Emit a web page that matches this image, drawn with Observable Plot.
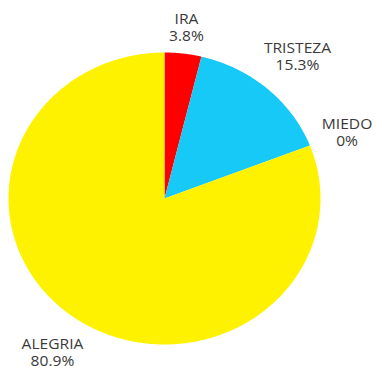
<!DOCTYPE html>
<html>
<head>
<meta charset="utf-8">
<script src="https://cdn.jsdelivr.net/npm/d3@7"></script>
<script src="https://cdn.jsdelivr.net/npm/@observablehq/plot@0.6"></script>
<style>
  html, body { margin: 0; padding: 0; background: #fff; }
  #chart svg { display: block; }
</style>
</head>
<body>
<div id="chart"></div>
<script>
// ---- data ----
const categories = ["IRA", "TRISTEZA", "MIEDO", "ALEGRIA"];
const percents = [3.8, 15.3, 0, 80.9];
const sliceColors = ["#ff0000", "#17c9f6", "#f5a000", "#fff200"];

// ---- layout ----
const W = 375, H = 366;
const cx = 164, cy = 198, rx = 156, ry = 146;   // pie (slightly stretched horizontally)
const fontSize = 14.6, stretch = 1.07, lineH = 17, gap = 11, halfH = 14;

const total = d3.sum(percents);
let acc = 0;
const slices = categories.map((name, i) => {
  const a0 = acc / total * 2 * Math.PI;
  acc += percents[i];
  const a1 = acc / total * 2 * Math.PI;
  return {name, value: percents[i], a0, a1};
});

// polygon points for each slice (unit-circle coords; scales map to the ellipse)
const pts = [];
for (const s of slices) {
  pts.push({name: s.name, x: 0, y: 0});
  const n = Math.max(1, Math.ceil((s.a1 - s.a0) / (Math.PI / 360)));
  for (let k = 0; k <= n; k++) {
    const a = s.a0 + (s.a1 - s.a0) * k / n;
    pts.push({name: s.name, x: Math.sin(a), y: Math.cos(a)});
  }
  pts.push({name: s.name, x: 0, y: 0});
}

// label placement: just outside the rim along the mid-angle, offset by the text box extent
const ctx = document.createElement("canvas").getContext("2d");
ctx.font = `${fontSize}px "Open Sans"`;
const labels = slices.map(s => {
  const text = `${s.name}\n${s.value}%`;
  const w = d3.max(text.split("\n"), t => ctx.measureText(t).width) * stretch;
  const am = (s.a0 + s.a1) / 2;
  const ex = rx * Math.sin(am), ey = ry * Math.cos(am); // pixel offsets (y up)
  const len = Math.hypot(ex, ey);
  const ux = ex / len, uy = ey / len;
  const d = gap + Math.abs(ux) * w / 2 + Math.abs(uy) * halfH;
  return {text, x: (ex + ux * d) / rx, y: (ey + uy * d) / ry};
});

const chart = Plot.plot({
  width: W,
  height: H,
  margin: 0,
  x: {domain: [-cx / rx, (W - cx) / rx], axis: null},
  y: {domain: [-(H - cy) / ry, cy / ry], axis: null},
  color: {domain: categories, range: sliceColors},
  style: {background: "#fff", fontFamily: "'Open Sans', sans-serif"},
  marks: [
    Plot.line(pts, {x: "x", y: "y", z: "name", fill: "name", stroke: null, curve: "linear"}),
    Plot.text(labels, {
      x: "x", y: "y", text: "text",
      fontSize, lineHeight: lineH / fontSize,
      fill: "#3a3a3a", textAnchor: "middle"
    })
  ]
});

chart.querySelectorAll("text").forEach(t => {
  const tr = t.getAttribute("transform");
  if (tr) t.setAttribute("transform", tr + ` scale(${stretch},1)`);
});

document.getElementById("chart").appendChild(chart);
</script>
</body>
</html>
